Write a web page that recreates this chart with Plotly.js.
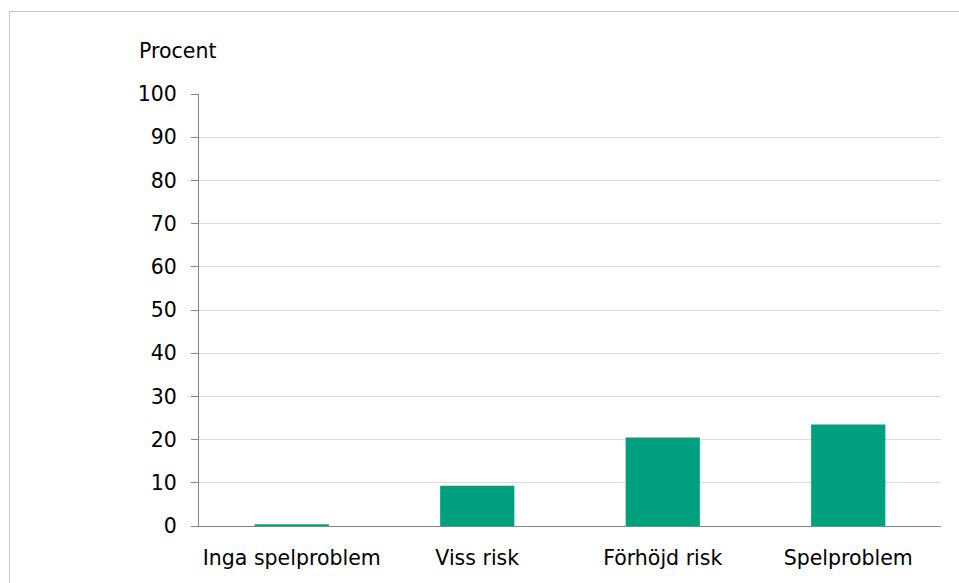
<!DOCTYPE html>
<html>
<head>
<meta charset="utf-8">
<script src="https://cdn.plot.ly/plotly-3.0.1.min.js"></script>
<style>
  html, body { margin: 0; padding: 0; background: #fff; }
  #frame { position: absolute; left: 9px; top: 11px; width: 960px; height: 580px; border-left: 1px solid #c8c8c8; border-top: 1px solid #c8c8c8; }
  #chart { position: absolute; left: 0; top: 0; width: 959px; height: 583px; }
</style>
</head>
<body>
<div id="frame"></div>
<div id="chart"></div>
<script>
const categories = ["Inga spelproblem", "Viss risk", "Förhöjd risk", "Spelproblem"];
const values = [0.4, 9.3, 20.5, 23.5];
const yTicks = [0, 10, 20, 30, 40, 50, 60, 70, 80, 90, 100];
const yTitle = "Procent";

const FONT = "Tahoma, 'DejaVu Sans', sans-serif";
const FS = 20.5;

Plotly.newPlot("chart", [{
  type: "bar",
  x: categories,
  y: values,
  marker: { color: "#00A07E" },
  hoverinfo: "x+y"
}], {
  width: 959, height: 583,
  margin: { l: 199, r: 18, t: 94, b: 57 },
  paper_bgcolor: "rgba(0,0,0,0)",
  plot_bgcolor: "rgba(0,0,0,0)",
  bargap: 0.6,
  showlegend: false,
  font: { family: FONT, size: FS, color: "#000" },
  xaxis: {
    showline: true, linecolor: "#868686", linewidth: 1,
    ticks: "", showgrid: false,
    tickfont: { family: FONT, size: FS, color: "#000" },
    ticklabelstandoff: 13
  },
  yaxis: {
    range: [0, 100], tickvals: yTicks, ticktext: yTicks.map(String),
    showline: true, linecolor: "#868686", linewidth: 1,
    ticks: "outside", ticklen: 7, tickcolor: "#868686",
    showgrid: true, gridcolor: "#d9d9d9", gridwidth: 1,
    zeroline: false,
    tickfont: { family: FONT, size: FS, color: "#000" },
    ticklabelstandoff: 10
  },
  annotations: [{
    text: yTitle, xref: "paper", yref: "paper",
    x: -0.0296, y: 1.0995, xanchor: "center", yanchor: "middle",
    showarrow: false, font: { family: FONT, size: FS, color: "#000" }
  }]
}, { displayModeBar: false, staticPlot: true });
</script>
</body>
</html>
